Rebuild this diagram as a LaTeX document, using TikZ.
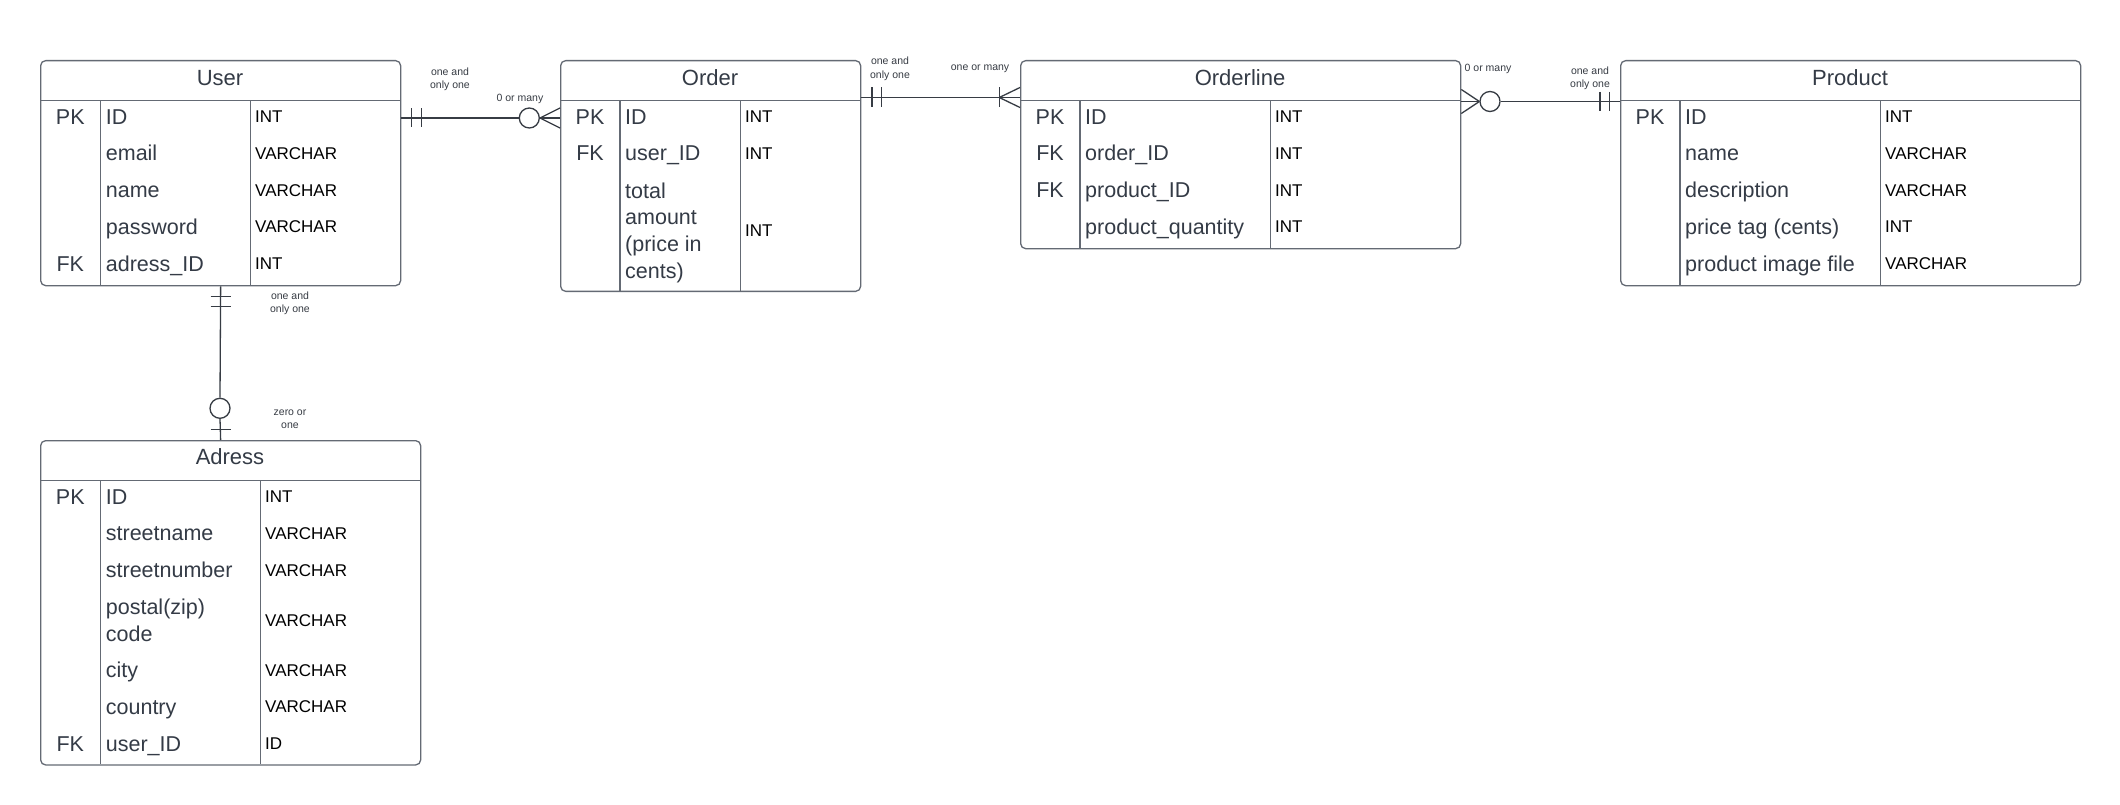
\documentclass[tikz,border=0pt]{standalone}
\usepackage{fontspec}
\setmainfont{Liberation Sans}
\usetikzlibrary{calc}
\definecolor{framegray}{RGB}{100,106,116}
\definecolor{fieldink}{RGB}{52,59,70}
\definecolor{linkink}{RGB}{55,60,68}
\tikzset{
  entity/.style={draw=framegray, line width=1.3pt, rounded corners=5pt, inner sep=0pt, anchor=north west},
  rule/.style={draw=framegray, line width=1.3pt},
  title/.style={anchor=base, inner sep=0pt, text=fieldink, font=\fontsize{22}{26}\selectfont},
  keytxt/.style={anchor=base, inner sep=0pt, text=fieldink, font=\fontsize{21.5}{26.7}\selectfont},
  fieldtxt/.style={anchor=base west, inner sep=0pt, text=fieldink, font=\fontsize{21.5}{26.7}\selectfont},
  fieldwrap/.style={anchor=north west, inner sep=0pt, text=fieldink, align=left, font=\fontsize{21.5}{26.7}\selectfont},
  typetxt/.style={anchor=base west, inner sep=0pt, text=black, font=\fontsize{17}{20}\selectfont},
  note/.style={inner sep=0pt, align=center, text=linkink, font=\fontsize{10.5}{13.3}\selectfont},
  link/.style={draw=linkink, line width=1.3pt},
  ring/.style={circle, draw=linkink, line width=1.3pt, fill=white, minimum size=20pt, inner sep=0pt},
}
\begin{document}
\begin{tikzpicture}[x=1pt, y=-1pt]
\fill[white] (0,0) rectangle (2120,805);
\useasboundingbox (0,0) rectangle (2120,805);

% ---------- User ----------
\node[entity, minimum width=360pt, minimum height=225pt] (user) at (40,60) {};
\node[title] (user-title) at (220,85.9) {User};
\draw[rule] (40,100.7) -- (400,100.7);
\draw[rule] (100.7,100.7) -- (100.7,285);
\draw[rule] (250.7,100.7) -- (250.7,285);
\foreach \yy/\kk/\fn/\dt [count=\i] in {116.7/PK/ID/INT, 153.3//email/VARCHAR, 190//name/VARCHAR, 226.7//password/VARCHAR, 263.3/FK/adress\_ID/INT}{
  \node[keytxt] (user-k\i) at (70.3,\yy+7.7) {\kk};
  \node[fieldtxt] (user-f\i) at (105.7,\yy+7.7) {\fn};
  \node[typetxt] (user-t\i) at (255,\yy+6.1) {\dt};
}

% ---------- Order ----------
\node[entity, minimum width=300pt, minimum height=230.7pt] (order) at (560,60) {};
\node[title] (order-title) at (710,85.9) {Order};
\draw[rule] (560,100.7) -- (860,100.7);
\draw[rule] (620,100.7) -- (620,290.7);
\draw[rule] (740.7,100.7) -- (740.7,290.7);
\foreach \yy/\kk/\fn/\dt [count=\i] in {116.7/PK/ID/INT, 153.3/FK/user\_ID/INT}{
  \node[keytxt] (order-k\i) at (590,\yy+7.7) {\kk};
  \node[fieldtxt] (order-f\i) at (625,\yy+7.7) {\fn};
  \node[typetxt] (order-t\i) at (745,\yy+6.1) {\dt};
}
\node[fieldwrap] (order-f3) at (625,182.3) {total\\amount\\(price in\\cents)};
\node[typetxt] (order-t3) at (745,236.1) {INT};

% ---------- Orderline ----------
\node[entity, minimum width=440pt, minimum height=188pt] (orderline) at (1020,60) {};
\node[title] (orderline-title) at (1240,85.9) {Orderline};
\draw[rule] (1020,100.7) -- (1460,100.7);
\draw[rule] (1080,100.7) -- (1080,248);
\draw[rule] (1270.5,100.7) -- (1270.5,248);
\foreach \yy/\kk/\fn/\dt [count=\i] in {116.7/PK/ID/INT, 153.3/FK/order\_ID/INT, 190/FK/product\_ID/INT, 226.7//product\_quantity/INT}{
  \node[keytxt] (orderline-k\i) at (1050,\yy+7.7) {\kk};
  \node[fieldtxt] (orderline-f\i) at (1085,\yy+7.7) {\fn};
  \node[typetxt] (orderline-t\i) at (1275,\yy+6.1) {\dt};
}

% ---------- Product ----------
\node[entity, minimum width=460pt, minimum height=225pt] (product) at (1620,60) {};
\node[title] (product-title) at (1850,85.9) {Product};
\draw[rule] (1620,100.7) -- (2080,100.7);
\draw[rule] (1680,100.7) -- (1680,285);
\draw[rule] (1880.7,100.7) -- (1880.7,285);
\foreach \yy/\kk/\fn/\dt [count=\i] in {116.7/PK/ID/INT, 153.3//name/VARCHAR, 190//description/VARCHAR, 226.7//price tag (cents)/INT, 263.3//product image file/VARCHAR}{
  \node[keytxt] (product-k\i) at (1650,\yy+7.7) {\kk};
  \node[fieldtxt] (product-f\i) at (1685,\yy+7.7) {\fn};
  \node[typetxt] (product-t\i) at (1885,\yy+6.1) {\dt};
}

% ---------- Adress ----------
\node[entity, minimum width=380pt, minimum height=324.3pt] (adress) at (40,440) {};
\node[title] (adress-title) at (230,464.6) {Adress};
\draw[rule] (40,480.7) -- (420,480.7);
\draw[rule] (100.7,480.7) -- (100.7,764.3);
\draw[rule] (260.7,480.7) -- (260.7,764.3);
\foreach \yy/\kk/\fn/\dt [count=\i] in {496.5/PK/ID/INT, 533.2//streetname/VARCHAR, 570//streetnumber/VARCHAR, 670//city/VARCHAR, 706.7//country/VARCHAR, 743.4/FK/user\_ID/ID}{
  \node[keytxt] (adress-k\i) at (70.3,\yy+7.7) {\kk};
  \node[fieldtxt] (adress-f\i) at (105.7,\yy+7.7) {\fn};
  \node[typetxt] (adress-t\i) at (265,\yy+6.1) {\dt};
}
\node[fieldwrap] (adress-f7) at (105.7,599) {postal(zip)\\code};
\node[typetxt] (adress-t7) at (265,626.1) {VARCHAR};

% ---------- User -- Order : one and only one / 0 or many ----------
\node[ring] (uo-ring) at (529.3,118) {};
\draw[link] (user.east |- uo-ring) -- (uo-ring.west);
\draw[link] (uo-ring.east) -- (order.west |- uo-ring);
\draw[link] (uo-ring.east) -- ($(order.west |- uo-ring)+(0,-10)$);
\draw[link] (uo-ring.east) -- ($(order.west |- uo-ring)+(0,10)$);
\draw[link] ($(user.east |- uo-ring)+(10.5,-9.5)$) -- ++(0,19);
\draw[link] ($(user.east |- uo-ring)+(20.5,-9.5)$) -- ++(0,19);
\node[note] (uo-one) at (450,79) {one and\\only one};
\node[note] (uo-many) at (520,99.3) {0 or many};

% ---------- Order -- Orderline : one and only one / one or many ----------
\coordinate (oo-a) at (order.east |- 0,97.5);
\coordinate (oo-b) at (orderline.west |- 0,97.5);
\draw[link] (oo-a) -- (oo-b);
\draw[link] ($(oo-a)+(10.7,-10)$) -- ++(0,20);
\draw[link] ($(oo-a)+(20.3,-10)$) -- ++(0,20);
\draw[link] ($(oo-b)+(-20.7,-10)$) -- ++(0,20);
\draw[link] ($(oo-b)+(-20.7,0)$) -- ($(oo-b)+(0,-10)$);
\draw[link] ($(oo-b)+(-20.7,0)$) -- ($(oo-b)+(0,10)$);
\node[note] (oo-one) at (890,68.7) {one and\\only one};
\node[note] (oo-many) at (980,69) {one or many};

% ---------- Orderline -- Product : 0 or many / one and only one ----------
\node[ring] (op-ring) at (1490,101.5) {};
\draw[link] (orderline.east |- op-ring) -- (op-ring.west);
\draw[link] (op-ring.west) -- ($(orderline.east |- op-ring)+(0,-12)$);
\draw[link] (op-ring.west) -- ($(orderline.east |- op-ring)+(0,12)$);
\draw[link] (op-ring.east) -- (product.west |- op-ring);
\draw[link] ($(product.west |- op-ring)+(-20,-9.5)$) -- ++(0,19);
\draw[link] ($(product.west |- op-ring)+(-10.5,-9.5)$) -- ++(0,19);
\node[note] (op-many) at (1488,69) {0 or many};
\node[note] (op-one) at (1590,78.3) {one and\\only one};

% ---------- User -- Adress : one and only one / zero or one ----------
\node[ring] (ua-ring) at (220,408.3) {};
\draw[link] (user.south) -- (ua-ring.north);
\draw[link] (ua-ring.south) -- (user.south |- adress.north);
\draw[link] ($(user.south)+(-10,10)$) -- ++(20,0);
\draw[link] ($(user.south)+(-10,20)$) -- ++(20,0);
\draw[link] ($(user.south |- adress.north)+(-10,-10.7)$) -- ++(20,0);
\node[note] (ua-one) at (290,303.5) {one and\\only one};
\node[note] (ua-zero) at (290,419.2) {zero or\\one};
\end{tikzpicture}
\end{document}
